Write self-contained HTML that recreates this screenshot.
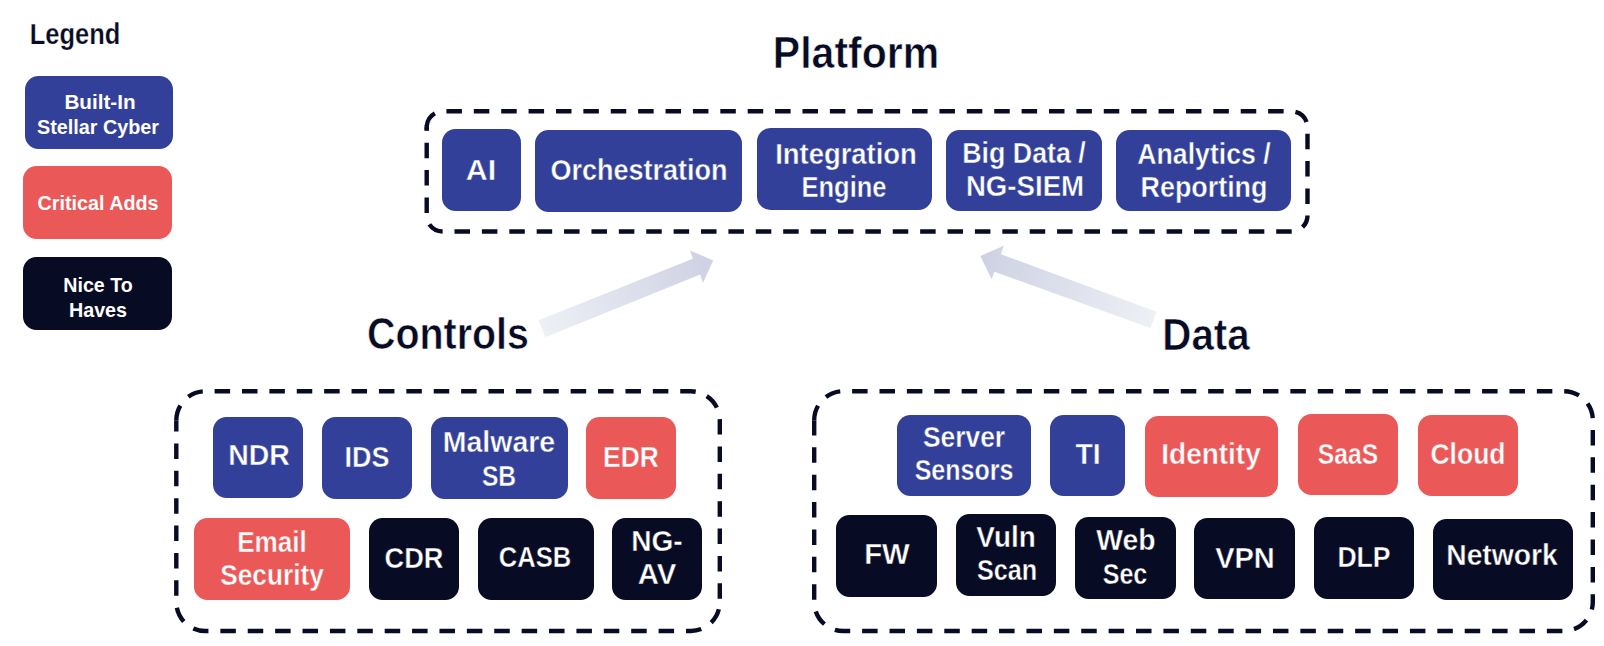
<!DOCTYPE html>
<html><head><meta charset="utf-8">
<style>
html,body{margin:0;padding:0;background:#fff;}
body{width:1604px;height:646px;position:relative;overflow:hidden;font-family:"Liberation Sans",sans-serif;}
.ov{position:absolute;left:0;top:0;}
.b{position:absolute;border-radius:13.5px;}
.L{position:absolute;width:0;height:0;font-weight:bold;white-space:nowrap;}
.L span{position:absolute;left:0;top:0;display:block;}
.tt span{-webkit-text-stroke:0.6px #fff;}
.ts span{-webkit-text-stroke:0.25px #fff;}
</style></head><body>
<svg class="ov" width="1604" height="646" viewBox="0 0 1604 646">
<defs>
<linearGradient id="g1" gradientUnits="userSpaceOnUse" x1="541" y1="329" x2="712" y2="261"><stop offset="0" stop-color="#eef0f6"/><stop offset="1" stop-color="#cdd1e2"/></linearGradient>
<linearGradient id="g2" gradientUnits="userSpaceOnUse" x1="1153" y1="320" x2="980" y2="256"><stop offset="0" stop-color="#eef0f6"/><stop offset="1" stop-color="#cdd1e2"/></linearGradient>
</defs>
<g fill="none" stroke="#070b24" stroke-width="4.4" stroke-dasharray="15.5 11.89">
<path d="M426.7,127.3 A16,16 0 0 1 442.7,111.3 L1291.5,111.3 A16,16 0 0 1 1307.5,127.3 L1307.5,215.5" stroke-dashoffset="-1.3"/><path d="M1307.5,215.5 A16,16 0 0 1 1291.5,231.5 L442.7,231.5 A16,16 0 0 1 426.7,215.5 L426.7,127.3" stroke-dashoffset="988.67"/>
<path d="M176.3,420.3 A29,29 0 0 1 205.3,391.3 L690.8,391.3 A29,29 0 0 1 719.8,420.3 L719.8,602" stroke-dashoffset="0"/><path d="M719.8,602 A29,29 0 0 1 690.8,631 L205.3,631 A29,29 0 0 1 176.3,602 L176.3,420.3" stroke-dashoffset="759.51"/>
<path d="M814.2,420.2 A29,29 0 0 1 843.2,391.2 L1563.8,391.2 A29,29 0 0 1 1592.8,420.2 L1592.8,602" stroke-dashoffset="0.4"/><path d="M1592.8,602 A29,29 0 0 1 1563.8,631 L843.2,631 A29,29 0 0 1 814.2,602 L814.2,420.2" stroke-dashoffset="993.91"/>
<path d="M426.7,130.3 L426.7,127.3 A16,16 0 0 1 426.82,125.31" stroke-dasharray="none"/>
</g>
<polygon fill="url(#g1)" points="538.5,320.3 692.8,258.8 690,250.4 713.2,260.4 703,283 700.2,274.6 545.4,337.3"/>
<polygon fill="url(#g2)" points="1156.6,311.8 1000.9,254.2 1003.7,245.8 980.4,256 991.6,279.2 994.4,271.8 1150.5,328.1"/>
</svg>
<div class="b" style="left:442px;top:129px;width:79px;height:82px;background:#32409a"></div><div class="b" style="left:535px;top:130px;width:207px;height:81.5px;background:#32409a"></div><div class="b" style="left:756.5px;top:128.3px;width:175.5px;height:82px;background:#32409a"></div><div class="b" style="left:946.4px;top:130px;width:155.2px;height:81.4px;background:#32409a"></div><div class="b" style="left:1115.6px;top:129.7px;width:175.6px;height:81.5px;background:#32409a"></div><div class="b" style="left:213.4px;top:416.9px;width:90.1px;height:81.4px;background:#32409a"></div><div class="b" style="left:322px;top:417.4px;width:90px;height:81.7px;background:#32409a"></div><div class="b" style="left:430.8px;top:417px;width:136.8px;height:81.5px;background:#32409a"></div><div class="b" style="left:586.3px;top:417.4px;width:90px;height:81.7px;background:#eb5858"></div><div class="b" style="left:193.7px;top:518px;width:156.5px;height:81.5px;background:#eb5858"></div><div class="b" style="left:369.1px;top:518px;width:90px;height:81.5px;background:#070b24"></div><div class="b" style="left:477.8px;top:517.5px;width:115.9px;height:82px;background:#070b24"></div><div class="b" style="left:612.2px;top:518px;width:90.1px;height:81.5px;background:#070b24"></div><div class="b" style="left:897px;top:414.9px;width:133.8px;height:81.5px;background:#32409a"></div><div class="b" style="left:1050px;top:414.9px;width:75.4px;height:81.5px;background:#32409a"></div><div class="b" style="left:1144.6px;top:415.7px;width:133.5px;height:81.2px;background:#eb5858"></div><div class="b" style="left:1297.6px;top:414.1px;width:100.4px;height:81.4px;background:#eb5858"></div><div class="b" style="left:1417.5px;top:414.5px;width:100.7px;height:81.5px;background:#eb5858"></div><div class="b" style="left:836.2px;top:515px;width:100.9px;height:81.5px;background:#070b24"></div><div class="b" style="left:955.6px;top:514.3px;width:100.9px;height:81.6px;background:#070b24"></div><div class="b" style="left:1075.1px;top:517.1px;width:100.8px;height:81.6px;background:#070b24"></div><div class="b" style="left:1194.4px;top:518.2px;width:100.8px;height:81.3px;background:#070b24"></div><div class="b" style="left:1313.8px;top:517.4px;width:100.7px;height:81.3px;background:#070b24"></div><div class="b" style="left:1433.1px;top:518.7px;width:139.6px;height:81.3px;background:#070b24"></div><div class="b" style="left:25px;top:75.5px;width:148.3px;height:73.3px;background:#32409a"></div><div class="b" style="left:23.4px;top:165.5px;width:148.5px;height:73.2px;background:#eb5858"></div><div class="b" style="left:23.4px;top:257.2px;width:148.5px;height:72.9px;background:#070b24"></div><div class="L" style="left:481.25px;top:155.7px;font-size:29px;line-height:29px;color:#fff"><span style="-webkit-text-stroke:0.4px #32409a;transform:translateX(-50%) scaleX(1.0462)">AI</span></div><div class="L" style="left:639px;top:155.6px;font-size:29px;line-height:29px;color:#fff"><span style="-webkit-text-stroke:0.4px #32409a;transform:translateX(-50%) scaleX(0.9316)">Orchestration</span></div><div class="L" style="left:845.55px;top:140.1px;font-size:29px;line-height:29px;color:#fff"><span style="-webkit-text-stroke:0.4px #32409a;transform:translateX(-50%) scaleX(0.9457)">Integration</span></div><div class="L" style="left:844.15px;top:173.4px;font-size:29px;line-height:29px;color:#fff"><span style="-webkit-text-stroke:0.4px #32409a;transform:translateX(-50%) scaleX(0.8775)">Engine</span></div><div class="L" style="left:1024px;top:138.6px;font-size:29px;line-height:29px;color:#fff"><span style="-webkit-text-stroke:0.4px #32409a;transform:translateX(-50%) scaleX(0.9243)">Big Data /</span></div><div class="L" style="left:1024.7px;top:172.2px;font-size:29px;line-height:29px;color:#fff"><span style="-webkit-text-stroke:0.4px #32409a;transform:translateX(-50%) scaleX(0.9523)">NG-SIEM</span></div><div class="L" style="left:1204.1px;top:140.1px;font-size:29px;line-height:29px;color:#fff"><span style="-webkit-text-stroke:0.4px #32409a;transform:translateX(-50%) scaleX(0.9194)">Analytics /</span></div><div class="L" style="left:1204.15px;top:173.4px;font-size:29px;line-height:29px;color:#fff"><span style="-webkit-text-stroke:0.4px #32409a;transform:translateX(-50%) scaleX(0.9269)">Reporting</span></div><div class="L" style="left:258.95px;top:441px;font-size:29px;line-height:29px;color:#fff"><span style="-webkit-text-stroke:0.4px #32409a;transform:translateX(-50%) scaleX(0.9800)">NDR</span></div><div class="L" style="left:367px;top:443px;font-size:29px;line-height:29px;color:#fff"><span style="-webkit-text-stroke:0.4px #32409a;transform:translateX(-50%) scaleX(0.9291)">IDS</span></div><div class="L" style="left:499.15px;top:428.1px;font-size:29px;line-height:29px;color:#fff"><span style="-webkit-text-stroke:0.4px #32409a;transform:translateX(-50%) scaleX(0.9822)">Malware</span></div><div class="L" style="left:499.45px;top:461.8px;font-size:29px;line-height:29px;color:#fff"><span style="-webkit-text-stroke:0.4px #32409a;transform:translateX(-50%) scaleX(0.8474)">SB</span></div><div class="L" style="left:630.5px;top:443px;font-size:29px;line-height:29px;color:#fff"><span style="-webkit-text-stroke:0.4px #eb5858;transform:translateX(-50%) scaleX(0.9105)">EDR</span></div><div class="L" style="left:271.85px;top:527.5px;font-size:29px;line-height:29px;color:#fff"><span style="-webkit-text-stroke:0.4px #eb5858;transform:translateX(-50%) scaleX(0.9000)">Email</span></div><div class="L" style="left:272.05px;top:561.1px;font-size:29px;line-height:29px;color:#fff"><span style="-webkit-text-stroke:0.4px #eb5858;transform:translateX(-50%) scaleX(0.9044)">Security</span></div><div class="L" style="left:413.85px;top:543.6px;font-size:29px;line-height:29px;color:#fff"><span style="-webkit-text-stroke:0.4px #070b24;transform:translateX(-50%) scaleX(0.9377)">CDR</span></div><div class="L" style="left:535.3px;top:543px;font-size:29px;line-height:29px;color:#fff"><span style="-webkit-text-stroke:0.4px #070b24;transform:translateX(-50%) scaleX(0.8813)">CASB</span></div><div class="L" style="left:656.75px;top:527px;font-size:29px;line-height:29px;color:#fff"><span style="-webkit-text-stroke:0.4px #070b24;transform:translateX(-50%) scaleX(0.9680)">NG-</span></div><div class="L" style="left:657.2px;top:560.3px;font-size:29px;line-height:29px;color:#fff"><span style="-webkit-text-stroke:0.4px #070b24;transform:translateX(-50%) scaleX(1.0108)">AV</span></div><div class="L" style="left:964.35px;top:422.5px;font-size:29px;line-height:29px;color:#fff"><span style="-webkit-text-stroke:0.4px #32409a;transform:translateX(-50%) scaleX(0.9101)">Server</span></div><div class="L" style="left:964.45px;top:455.6px;font-size:29px;line-height:29px;color:#fff"><span style="-webkit-text-stroke:0.4px #32409a;transform:translateX(-50%) scaleX(0.8625)">Sensors</span></div><div class="L" style="left:1087.5px;top:440.1px;font-size:29px;line-height:29px;color:#fff"><span style="-webkit-text-stroke:0.4px #32409a;transform:translateX(-50%) scaleX(0.9751)">TI</span></div><div class="L" style="left:1211.25px;top:439.6px;font-size:29px;line-height:29px;color:#fff"><span style="-webkit-text-stroke:0.4px #eb5858;transform:translateX(-50%) scaleX(0.9644)">Identity</span></div><div class="L" style="left:1348.05px;top:439.6px;font-size:29px;line-height:29px;color:#fff"><span style="-webkit-text-stroke:0.4px #eb5858;transform:translateX(-50%) scaleX(0.8493)">SaaS</span></div><div class="L" style="left:1467.55px;top:439.8px;font-size:29px;line-height:29px;color:#fff"><span style="-webkit-text-stroke:0.4px #eb5858;transform:translateX(-50%) scaleX(0.9152)">Cloud</span></div><div class="L" style="left:886.85px;top:540.3px;font-size:29px;line-height:29px;color:#fff"><span style="-webkit-text-stroke:0.4px #070b24;transform:translateX(-50%) scaleX(1.0093)">FW</span></div><div class="L" style="left:1005.75px;top:522.8px;font-size:29px;line-height:29px;color:#fff"><span style="-webkit-text-stroke:0.4px #070b24;transform:translateX(-50%) scaleX(0.9600)">Vuln</span></div><div class="L" style="left:1006.7px;top:556.4px;font-size:29px;line-height:29px;color:#fff"><span style="-webkit-text-stroke:0.4px #070b24;transform:translateX(-50%) scaleX(0.8688)">Scan</span></div><div class="L" style="left:1125.7px;top:526.4px;font-size:29px;line-height:29px;color:#fff"><span style="-webkit-text-stroke:0.4px #070b24;transform:translateX(-50%) scaleX(0.9767)">Web</span></div><div class="L" style="left:1125.4px;top:559.7px;font-size:29px;line-height:29px;color:#fff"><span style="-webkit-text-stroke:0.4px #070b24;transform:translateX(-50%) scaleX(0.8642)">Sec</span></div><div class="L" style="left:1245px;top:543.7px;font-size:29px;line-height:29px;color:#fff"><span style="-webkit-text-stroke:0.4px #070b24;transform:translateX(-50%) scaleX(1.0000)">VPN</span></div><div class="L" style="left:1364.3px;top:543px;font-size:29px;line-height:29px;color:#fff"><span style="-webkit-text-stroke:0.4px #070b24;transform:translateX(-50%) scaleX(0.9179)">DLP</span></div><div class="L" style="left:1501.9px;top:541.2px;font-size:29px;line-height:29px;color:#fff"><span style="-webkit-text-stroke:0.4px #070b24;transform:translateX(-50%) scaleX(0.9750)">Network</span></div><div class="L" style="left:99.7px;top:92.1px;font-size:20.5px;line-height:20.5px;color:#fff"><span style="transform:translateX(-50%) scaleX(1.0088)">Built-In</span></div><div class="L" style="left:98.3px;top:117.2px;font-size:20.5px;line-height:20.5px;color:#fff"><span style="transform:translateX(-50%) scaleX(0.9648)">Stellar Cyber</span></div><div class="L" style="left:97.95px;top:193.3px;font-size:20.5px;line-height:20.5px;color:#fff"><span style="transform:translateX(-50%) scaleX(0.9629)">Critical Adds</span></div><div class="L" style="left:97.55px;top:274.8px;font-size:20.5px;line-height:20.5px;color:#fff"><span style="transform:translateX(-50%) scaleX(0.9572)">Nice To</span></div><div class="L" style="left:97.85px;top:299.8px;font-size:20.5px;line-height:20.5px;color:#fff"><span style="transform:translateX(-50%) scaleX(0.9621)">Haves</span></div><div class="L ts" style="left:74.7px;top:19.8px;font-size:29px;line-height:29px;color:#070b24"><span style="transform:translateX(-50%) scaleX(0.8768)">Legend</span></div><div class="L tt" style="left:855.65px;top:30.8px;font-size:44px;line-height:44px;color:#070b24"><span style="transform:translateX(-50%) scaleX(0.9318)">Platform</span></div><div class="L tt" style="left:447.8px;top:311.9px;font-size:44px;line-height:44px;color:#070b24"><span style="transform:translateX(-50%) scaleX(0.8949)">Controls</span></div><div class="L tt" style="left:1206.35px;top:312.8px;font-size:44px;line-height:44px;color:#070b24"><span style="transform:translateX(-50%) scaleX(0.9162)">Data</span></div>
</body></html>
